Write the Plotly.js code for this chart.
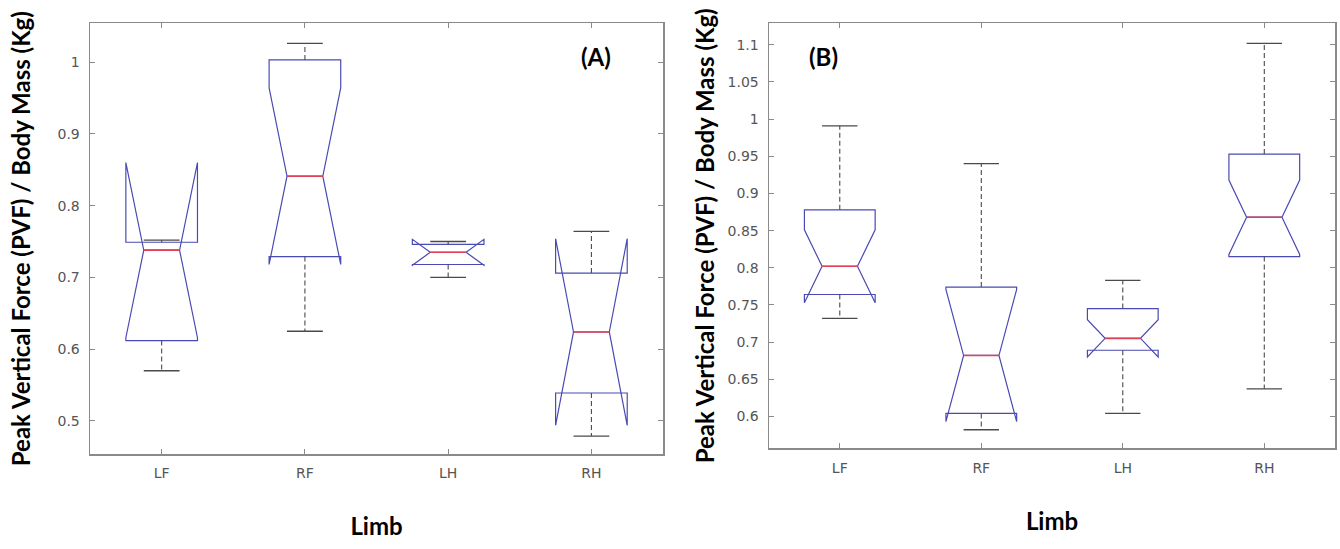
<!DOCTYPE html>
<html><head><meta charset="utf-8">
<script src="https://cdn.plot.ly/plotly-3.0.1.min.js"></script>
<style>html,body{margin:0;padding:0;background:#fff}#chart{width:1340px;height:549px}</style>
</head><body><div id="chart"></div>
<script>
// Categories
const limbs = ['LF', 'RF', 'LH', 'RH'];

// Panel (A) box statistics (PVF / body mass)
const aLowerWhisker = [0.570, 0.625, 0.700, 0.479];
const aQ1           = [0.612, 0.729, 0.718, 0.539];
const aMedian       = [0.738, 0.841, 0.735, 0.624];
const aQ3           = [0.749, 1.003, 0.746, 0.706];
const aUpperWhisker = [0.752, 1.026, 0.750, 0.764];
const aNotchSpan    = [0.122, 0.123, 0.018, 0.130];

// Panel (B) box statistics
const bLowerWhisker = [0.732, 0.582, 0.604, 0.637];
const bQ1           = [0.764, 0.604, 0.689, 0.815];
const bMedian       = [0.802, 0.682, 0.705, 0.868];
const bQ3           = [0.878, 0.774, 0.745, 0.953];
const bUpperWhisker = [0.991, 0.940, 0.783, 1.102];
const bNotchSpan    = [0.049, 0.089, 0.025, 0.050];

// Tick labels
const aTickValues = [0.5, 0.6, 0.7, 0.8, 0.9, 1];
const aTickLabels = ['0.5', '0.6', '0.7', '0.8', '0.9', '1'];
const bTickValues = [0.6, 0.65, 0.7, 0.75, 0.8, 0.85, 0.9, 0.95, 1, 1.05, 1.1];
const bTickLabels = ['0.6', '0.65', '0.7', '0.75', '0.8', '0.85', '0.9', '0.95', '1', '1.05', '1.1'];

const yTitle = 'Peak Vertical Force (PVF) / Body Mass (Kg)';
const xTitle = 'Limb';

// Styles
const BOX_WIDTH = 0.5, NOTCH_WIDTH = 0.25;
const MED_HALF = BOX_WIDTH / 2 * (1 - 2 * NOTCH_WIDTH);
const CAP_HALF = 0.125;
const BLUE = '#4a4ab4', RED = '#e0405a', WHISK = '#4a4a4a', FRAME = '#8a8a8a';
const positions = limbs.map((_, i) => i + 1);

function segs(fn) {
  const xs = [], ys = [];
  positions.forEach((p, i) => { const s = fn(p, i); xs.push(s[0], s[1], null); ys.push(s[2], s[3], null); });
  return {xs, ys};
}

function panel(xa, ya, lw, q1, med, q3, uw, ns) {
  const up = segs((p, i) => [p, p, q3[i], uw[i]]);
  const lo = segs((p, i) => [p, p, q1[i], lw[i]]);
  const capU = segs((p, i) => [p - CAP_HALF, p + CAP_HALF, uw[i], uw[i]]);
  const capL = segs((p, i) => [p - CAP_HALF, p + CAP_HALF, lw[i], lw[i]]);
  const medS = segs((p, i) => [p - MED_HALF, p + MED_HALF, med[i], med[i]]);
  const common = {xaxis: xa, yaxis: ya, hoverinfo: 'skip', showlegend: false};
  return [
    Object.assign({type: 'scatter', mode: 'lines', x: up.xs.concat(lo.xs), y: up.ys.concat(lo.ys),
      line: {color: WHISK, width: 1.1, dash: '5px,3px'}}, common),
    Object.assign({type: 'box', x: positions, q1: q1, median: med, q3: q3,
      lowerfence: lw, upperfence: uw, notchspan: ns, notched: true, notchwidth: NOTCH_WIDTH,
      width: BOX_WIDTH, whiskerwidth: 0, showwhiskers: false, boxpoints: false,
      line: {color: BLUE, width: 1.2}, fillcolor: 'rgba(0,0,0,0)'}, common),
    Object.assign({type: 'scatter', mode: 'lines', x: capU.xs.concat(capL.xs), y: capU.ys.concat(capL.ys),
      line: {color: WHISK, width: 1.3}}, common),
    Object.assign({type: 'scatter', mode: 'lines', x: medS.xs, y: medS.ys,
      line: {color: RED, width: 1.6}}, common)
  ];
}

const data = panel('x', 'y', aLowerWhisker, aQ1, aMedian, aQ3, aUpperWhisker, aNotchSpan)
  .concat(panel('x2', 'y2', bLowerWhisker, bQ1, bMedian, bQ3, bUpperWhisker, bNotchSpan));

const tickFont = {family: 'DejaVu Sans', size: 14, color: '#555'};
const titleFont = {family: 'Lato', size: 24, color: '#000', weight: 'bold'};

function xAxis(domain, anchor) {
  return {domain: domain, anchor: anchor, range: [0.5, 4.5], tickvals: positions, ticktext: limbs,
    ticks: 'inside', ticklen: 5, tickcolor: FRAME, showline: true, mirror: 'ticks', linecolor: FRAME,
    linewidth: 1.5, showgrid: false, zeroline: false, tickfont: tickFont, ticklabelstandoff: 6,
    title: {text: xTitle, font: titleFont, standoff: 38}};
}
function yAxis(domain, anchor, range, tv, tt, standoff) {
  return {domain: domain, anchor: anchor, range: range, tickvals: tv, ticktext: tt,
    ticks: 'inside', ticklen: 5, tickcolor: FRAME, showline: true, mirror: 'ticks', linecolor: FRAME,
    linewidth: 1.5, showgrid: false, zeroline: false, tickfont: tickFont, ticklabelstandoff: 6,
    title: {text: yTitle, font: titleFont, standoff: standoff}};
}

const layout = {
  width: 1340, height: 549, margin: {l: 0, r: 0, t: 0, b: 0},
  paper_bgcolor: '#fff', plot_bgcolor: '#fff', showlegend: false,
  xaxis: xAxis([0.0672, 0.4948], 'y'),
  yaxis: yAxis([0.1730, 0.9576], 'x', [0.454, 1.054], aTickValues, aTickLabels, 20),
  xaxis2: xAxis([0.5739, 0.9963], 'y2'),
  yaxis2: yAxis([0.1834, 0.9576], 'x2', [0.557, 1.129], bTickValues, bTickLabels, 6),
  annotations: [
    {text: '(A)', xref: 'x domain', yref: 'y domain', x: 0.883, y: 0.924, showarrow: false,
      xanchor: 'center', yanchor: 'middle', font: titleFont},
    {text: '(B)', xref: 'x2 domain', yref: 'y2 domain', x: 0.0954, y: 0.923, showarrow: false,
      xanchor: 'center', yanchor: 'middle', font: titleFont}
  ]
};

Plotly.newPlot('chart', data, layout, {staticPlot: true, displayModeBar: false});
</script></body></html>
